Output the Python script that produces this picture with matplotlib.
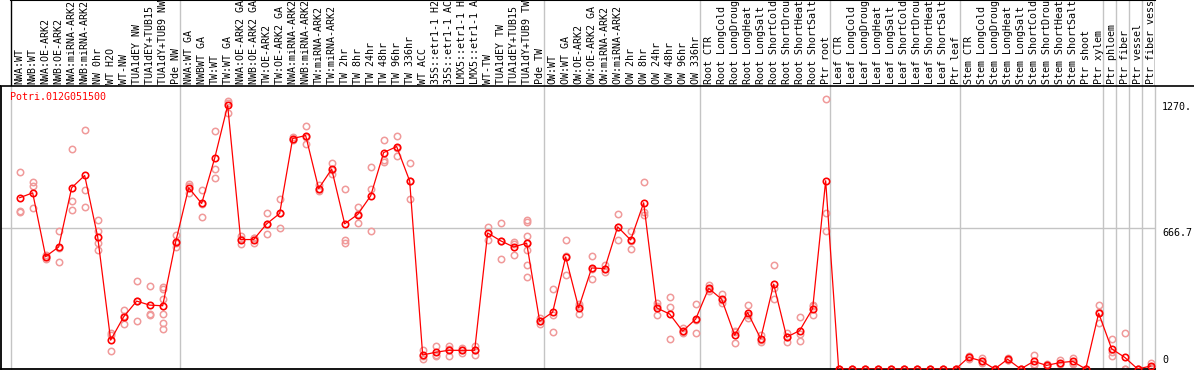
import matplotlib
matplotlib.use('Agg')
import matplotlib.pyplot as plt
from matplotlib.lines import Line2D

# sample names, in plot order
labels = [
    'NWA:WT', 'NWB:WT', 'NWA:OE-ARK2', 'NWB:OE-ARK2', 'NWA:miRNA-ARK2',
    'NWB:miRNA-ARK2', 'NW 0hr', 'WT H2O', 'WT-NW', 'TUA1dEY NW',
    'TUA1dEY+TUB15 NW', 'TUA1dY+TUB9 NW', 'Pde NW',
    'NWA:WT GA', 'NWBWT GA', 'TW:WT', 'TW:WT GA', 'NWA:OE-ARK2 GA',
    'NWB:OE-ARK2 GA', 'TW:OE-ARK2', 'TW:OE-ARK2 GA', 'NWA:miRNA-ARK2 GA',
    'NWB:miRNA-ARK2 GA', 'TW:miRNA-ARK2', 'TW:miRNA-ARK2 GA', 'TW 2hr',
    'TW 8hr', 'TW 24hr', 'TW 48hr', 'TW 96hr', 'TW 336hr', 'WT ACC',
    '35S::etr1-1 H2O', '35S::etr1-1 ACC', 'LMX5::etr1-1 H2O',
    'LMX5::etr1-1 ACC', 'WT-TW', 'TUA1dEY TW', 'TUA1dEY+TUB15 TW',
    'TUA1dY+TUB9 TW', 'Pde TW',
    'OW:WT', 'OW:WT GA', 'OW:OE-ARK2', 'OW:OE-ARK2 GA', 'OW:miRNA-ARK2',
    'OW:miRNA-ARK2 GA', 'OW 2hr', 'OW 8hr', 'OW 24hr', 'OW 48hr', 'OW 96hr',
    'OW 336hr',
    'Root CTR', 'Root LongCold', 'Root LongDrought', 'Root LongHeat',
    'Root LongSalt', 'Root ShortCold', 'Root ShortDrought', 'Root ShortHeat',
    'Root ShortSalt', 'Ptr root',
    'Leaf CTR', 'Leaf LongCold', 'Leaf LongDrought', 'Leaf LongHeat',
    'Leaf LongSalt', 'Leaf ShortCold', 'Leaf ShortDrought', 'Leaf ShortHeat',
    'Leaf ShortSalt', 'Ptr leaf',
    'Stem CTR', 'Stem LongCold', 'Stem LongDrought', 'Stem LongHeat',
    'Stem LongSalt', 'Stem ShortCold', 'Stem ShortDrought', 'Stem ShortHeat',
    'Stem ShortSalt', 'Ptr shoot', 'Ptr xylem',
    'Ptr phloem', 'Ptr fiber', 'Ptr vessel', 'Ptr fiber vessel',
]

means = [
    807, 830, 530, 575, 854, 912, 623, 136, 246, 320, 301, 298, 599,
    854, 780, 993, 1242, 610, 610, 684, 733, 1086, 1100, 850, 942, 684,
    728, 816, 1020, 1048, 886, 66, 79, 88, 88, 88, 641, 604, 575, 593, 225,
    268, 528, 288, 476, 473, 670, 608, 783, 288, 259, 178, 235,
    380, 329, 159, 266, 143, 400, 150, 181, 285, 887,
    0, 0, 0, 0, 0, 0, 0, 0, 0, 0,
    55, 38, 0, 46, 0, 36, 17, 30, 36, 0, 263,
    95, 55, 0, 14,
]

replicates = [
    [930, 744, 741], [881, 862, 760], [539, 526, 519], [652, 504, 569],
    [1035, 791, 747], [1128, 845, 764], [700, 649, 594, 559], [169, 161, 87],
    [276, 211, 251], [416, 225, 319], [392, 259, 255],
    [386, 378, 331, 259, 217, 188], [630, 574, 593],
    [873, 862, 827], [845, 717, 778], [1122, 944, 902], [1262, 1204, 1252],
    [629, 590, 611], [615, 596, 619], [736, 634, 682], [799, 665, 735],
    [1094, 1078, 1086], [1143, 1062, 1095], [865, 838, 847], [969, 917, 940],
    [850, 610, 593], [764, 689, 731], [953, 850, 648], [1078, 983, 977],
    [1097, 1006, 1041], [972, 802, 884], [63, 47, 88], [110, 63, 64],
    [107, 63, 94], [74, 90, 100], [107, 66, 91], [671, 610, 642],
    [690, 520, 602], [599, 539, 587], [704, 693, 629, 593, 563, 490, 432],
    [211, 225, 239],
    [378, 172, 254], [610, 443, 531], [306, 259, 299], [533, 424, 471],
    [490, 459, 470], [731, 608, 671], [652, 567, 605], [883, 739, 725],
    [311, 255, 298], [339, 292, 140], [192, 169, 173], [306, 169, 230],
    [397, 375, 368], [355, 309, 323], [180, 123, 174], [303, 240, 255],
    [161, 129, 139], [490, 382, 329], [169, 129, 152], [244, 134, 165],
    [299, 255, 301], [1270, 736, 651],
    [0, 0, 0], [0, 0, 0], [0, 0, 0], [0, 0, 0], [0, 0, 0],
    [0, 0, 0], [0, 0, 0], [0, 0, 0], [0, 0, 0], [0, 0, 0],
    [63, 55, 47], [51, 27, 36], [0, 0, 0], [51, 44, 43], [0, 0, 0],
    [66, 19, 23], [17, 12, 22], [43, 25, 22], [54, 30, 24], [0, 0, 0],
    [301, 219, 269],
    [140, 63, 82], [169, 0, 0], [0, 0, 0], [27, 8, 7],
]

# index of first sample of each group (last entry = end)
group_starts = [0, 13, 41, 53, 63, 73, 84, 85, 86, 87, 88]

gene = 'Potri.012G051500'
ytick_vals = [0, 666.7, 1270]
ytick_text = ['0', '666.7', '1270.']

RED = '#ff0000'
PINK = '#f09a9a'
GRID = '#c4c4c4'
MONO = 'DejaVu Sans Mono'
FS = 7.2

W, H = 1194, 370
fig = plt.figure(figsize=(W / 100, H / 100), dpi=100)


def box(x0, y0, x1, y1):
    # pixel box measured from top-left -> figure fraction
    return [x0 / W, 1 - y1 / H, (x1 - x0) / W, (y1 - y0) / H]


def px2x(px):
    return (px - 19.67) / 13.0


ax = fig.add_axes(box(1, 86, 1155, 369))
ax_lab = fig.add_axes(box(1, 0, 1155, 86))

xlim = (px2x(1), px2x(1155))
ax.set_xlim(*xlim)
ax_lab.set_xlim(*xlim)
ax.set_ylim(0, max(ytick_vals) * 1.05)
ax_lab.set_ylim(0, 1)

for a in (ax, ax_lab):
    a.set_xticks([])
    a.set_yticks([])
    for s in a.spines.values():
        s.set_visible(False)

ax.spines['left'].set_visible(True)
ax.spines['bottom'].set_visible(True)
for s in ('left', 'bottom'):
    ax.spines[s].set_color('black')
    ax.spines[s].set_linewidth(1.3)

# group separators
bounds = [b - 0.68 for b in group_starts]
for k, b in enumerate(bounds):
    ax.axvline(b, color=GRID, lw=1.0, zorder=1, clip_on=False)
    edge = k == 0 or k == len(bounds) - 1
    ax_lab.axvline(b, color='black' if edge else GRID, lw=1.0)
ax_lab.plot([bounds[0], bounds[-1]], [1, 1], color='black', lw=1.5,
            clip_on=False)
ax.axhline(ytick_vals[1], color=GRID, lw=1.0, zorder=1)

fig.add_artist(Line2D([0, 1], [1 - 86 / H] * 2, color='black', lw=1.2,
                      transform=fig.transFigure))

# replicates
rx, ry = [], []
for i, vals in enumerate(replicates):
    rx += [i] * len(vals)
    ry += vals
ax.plot(rx, ry, 'o', ls='none', mfc='none', mec=PINK, ms=4.6, mew=1.1,
        zorder=2)

xs = list(range(len(means)))
ax.plot(xs, means, color=RED, lw=0.9, zorder=3)
ax.plot(xs, means, 'o', ls='none', mfc='none', mec=RED, ms=4.6, mew=1.2,
        zorder=4)

# sample labels, clipped by the top of the label band
for i, lab in enumerate(labels):
    ax_lab.text(i, 2 / 86, lab, rotation=90, ha='center', va='bottom',
                family=MONO, fontsize=FS, color='black', clip_on=True)

ax.text(9 / 1154, (369 - 97) / 283, gene, color=RED, family=MONO,
        fontsize=FS, ha='left', va='center', transform=ax.transAxes)

# value labels on the right
yt = ax.get_yaxis_transform()
offsets = [(4, 'bottom'), (0, 'top'), (-3, 'top')]
for v, t, (dy, va) in zip(ytick_vals, ytick_text, offsets):
    ax.annotate(t, xy=(1161 / 1154 - 0.0, v), xycoords=yt,
                xytext=(0, dy), textcoords='offset pixels',
                ha='left', va=va, family=MONO, fontsize=FS,
                annotation_clip=False)

fig.savefig('out.png', dpi=100)
